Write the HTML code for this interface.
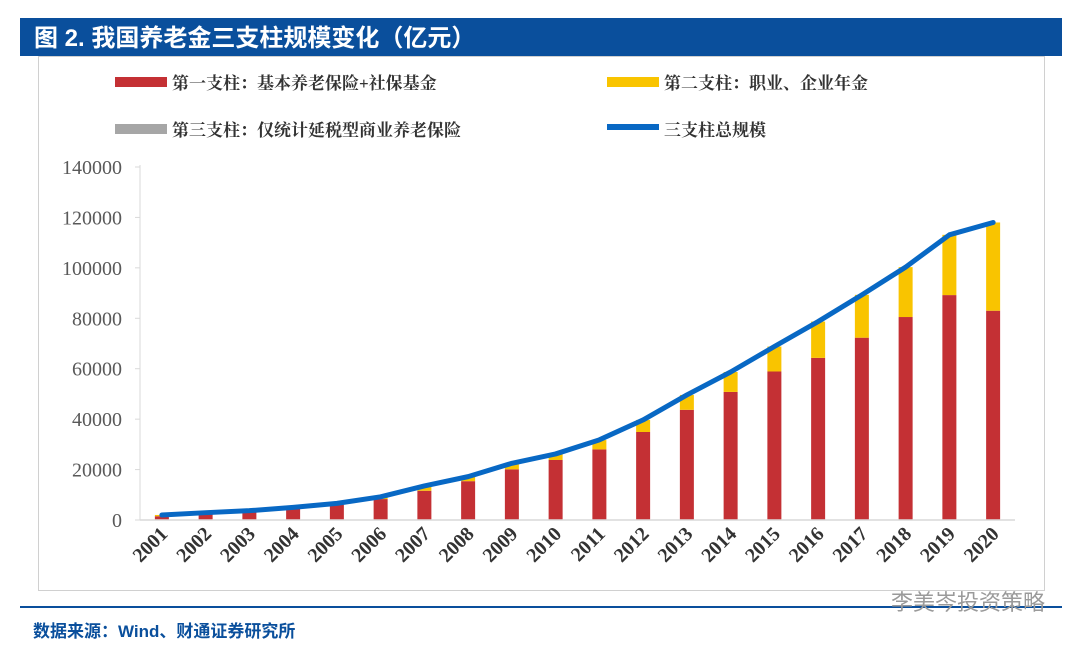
<!DOCTYPE html>
<html><head><meta charset="utf-8">
<style>
body{margin:0;width:1080px;height:650px;background:#fff;overflow:hidden;font-family:"Liberation Sans","Noto Sans CJK SC",sans-serif;}
</style></head>
<body>
<svg width="1080" height="650" viewBox="0 0 1080 650" xmlns="http://www.w3.org/2000/svg">
<rect x="20" y="18" width="1042" height="38" fill="#0a4f9c"/>
<text x="34" y="46" fill="#fff" font-size="24" font-weight="bold" font-family="Liberation Sans,Noto Sans CJK SC,sans-serif">图 2. 我国养老金三支柱规模变化（亿元）</text>
<rect x="38.5" y="56.5" width="1006" height="534" fill="none" stroke="#d0d0d0"/>
<g font-family="Liberation Serif,Noto Serif CJK SC,serif" font-size="17" font-weight="bold" fill="#333">
<rect x="115" y="77" width="52" height="10" fill="#c43034"/>
<text x="172" y="89">第一支柱：基本养老保险+社保基金</text>
<rect x="607" y="77" width="52" height="10" fill="#f9c400"/>
<text x="664" y="89">第二支柱：职业、企业年金</text>
<rect x="115" y="124" width="52" height="10" fill="#a6a6a6"/>
<text x="172" y="136">第三支柱：仅统计延税型商业养老保险</text>
<rect x="607" y="124" width="52" height="6" fill="#0868c4"/>
<text x="664" y="136">三支柱总规模</text>
</g>
<g id="plot"></g>
<line x1="20" y1="607" x2="1062" y2="607" stroke="#0a4f9c" stroke-width="2"/>
<text x="33" y="637" fill="#0a4f9c" font-size="17" font-weight="bold">数据来源：Wind、财通证券研究所</text>
<text x="1045" y="610" text-anchor="end" fill="#9a9a9a" font-size="22">李美岑投资策略</text>
</svg>
<script>
const years=["2001","2002","2003","2004","2005","2006","2007","2008","2009","2010","2011","2012","2013","2014","2015","2016","2017","2018","2019","2020"];
const pillar1=[1500,2500,3200,4600,6000,8300,11600,15400,20100,23800,28000,34900,43700,50800,58900,64300,72300,80500,89200,83000];
const pillar2=[500,400,500,400,600,900,1900,1800,2400,2400,3700,4800,5900,7900,9900,14400,17000,19800,23900,35000];
const pillar3=[0,0,0,0,0,0,0,0,0,0,0,0,0,0,0,0,0,0,0,0];
const total=[2000,2900,3700,5000,6600,9200,13500,17200,22500,26200,31800,39700,49600,58700,68800,78700,89300,100300,113100,118000];
const yTicks=[0,20000,40000,60000,80000,100000,120000,140000];
const NS="http://www.w3.org/2000/svg";
const g=document.getElementById('plot');
const y0=520,yTop=167,yMax=140000,x0=140,x1=1015;
const y=v=>y0-(v/yMax)*(y0-yTop);
const step=(x1-x0)/years.length;
const x=i=>x0+step*(i+0.5);
function mk(t,a){const e=document.createElementNS(NS,t);for(const k in a)e.setAttribute(k,a[k]);g.appendChild(e);return e;}
let ax=mk('line',{x1:x0,y1:yTop-2,x2:x0,y2:y0,stroke:'#d9d9d9','stroke-width':1});


yTicks.forEach(v=>{
  const t=mk('text',{x:122,y:y(v)+7,'text-anchor':'end','font-size':20,fill:'#595959','font-family':'Liberation Serif,serif'});
  t.textContent=v;
  
  
  const tk=mk('line',{x1:x0-5,y1:y(v),x2:x0,y2:y(v),stroke:'#d9d9d9'});
  
  
});
years.forEach((yr,i)=>{
  const cx=x(i),w=14;
  const r=mk('rect',{x:cx-w/2,y:y(pillar1[i]),width:w,height:y0-y(pillar1[i]),fill:'#c43034'});
  
  
  const s=mk('rect',{x:cx-w/2,y:y(pillar1[i]+pillar2[i]),width:w,height:y(pillar1[i])-y(pillar1[i]+pillar2[i]),fill:'#f9c400'});
  
  
  const p=mk('rect',{x:cx-w/2,y:y(pillar1[i]+pillar2[i]+pillar3[i]),width:w,height:y(pillar1[i]+pillar2[i])-y(pillar1[i]+pillar2[i]+pillar3[i]),fill:'#a6a6a6'});
  
  
  const t=mk('text',{x:0,y:0,'text-anchor':'end','font-size':20,'font-weight':'bold',fill:'#333','font-family':'Liberation Serif,serif',transform:`translate(${cx+7},${y0+15}) rotate(-45)`});
  t.textContent=yr;
  
  
});
const bx=mk('line',{x1:x0,y1:y0,x2:x1,y2:y0,stroke:'#d9d9d9','stroke-width':1.5});


const ln=mk('polyline',{points:total.map((v,i)=>x(i)+','+y(v)).join(' '),fill:'none',stroke:'#0868c4','stroke-width':5,'stroke-linejoin':'round','stroke-linecap':'round'});


</script>
</body></html>
